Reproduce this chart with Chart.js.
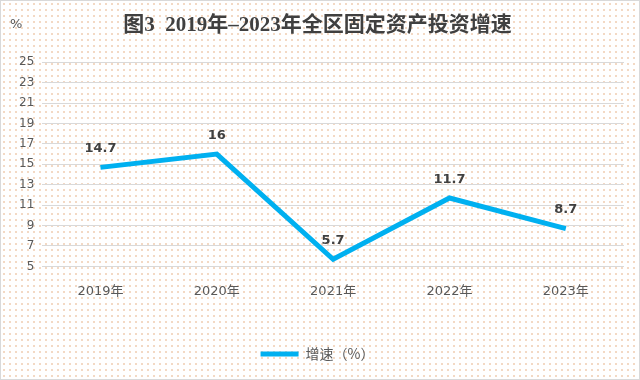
<!DOCTYPE html>
<html>
<head>
<meta charset="utf-8">
<script src="https://cdn.jsdelivr.net/npm/chart.js@4"></script>
<style>
  body { margin: 0; background: #fff; }
  #wrap {
    width: 638px; height: 378px; border: 1px solid #d9d9d9;
    background-color: #fff;
    background-image: radial-gradient(#f3d9c4 0.8px, transparent 0.9px);
    background-size: 6px 6px;
  }
</style>
</head>
<body>
<div id="wrap"><canvas id="myChart" width="638" height="378"></canvas></div>
<script>
const years = ['2019年', '2020年', '2021年', '2022年', '2023年'];
const growth = [14.7, 16, 5.7, 11.7, 8.7];
const yTicks = [5, 7, 9, 11, 13, 15, 17, 19, 21, 23, 25];

const lineColor = '#00b0f0';

// values above each point + the "%" unit in the top left corner
const labelPlugin = {
    id: 'labels',
    afterDatasetsDraw(chart) {
        const ctx = chart.ctx;
        const meta = chart.getDatasetMeta(0);
        ctx.save();
        ctx.font = 'bold 13px "DejaVu Sans", sans-serif';
        ctx.fillStyle = '#404040';
        ctx.textAlign = 'center';
        ctx.textBaseline = 'bottom';
        meta.data.forEach((pt, i) => {
            ctx.fillText(String(growth[i]), pt.x, pt.y - 12);
        });
        ctx.font = '13px "DejaVu Sans", sans-serif';
        ctx.fillStyle = '#595959';
        ctx.textAlign = 'left';
        ctx.textBaseline = 'middle';
        ctx.fillText('%', 9, 24);
        ctx.restore();
    }
};

const ctx = document.getElementById('myChart').getContext('2d');
const myChart = new Chart(ctx, {
    type: 'line',
    data: {
        labels: years,
        datasets: [{
            label: '增速（%）',
            data: growth,
            borderColor: lineColor,
            backgroundColor: lineColor,
            borderWidth: 5,
            pointRadius: 0,
            tension: 0
        }]
    },
    options: {
        responsive: false,
        animation: false,
        layout: { padding: { left: 10, right: 15, top: 0, bottom: 8 } },
        plugins: {
            title: {
                display: true,
                text: '图3  2019年–2023年全区固定资产投资增速',
                color: '#404040',
                font: { family: '"Liberation Serif", "Noto Sans CJK SC", serif', size: 21, weight: 'bold' },
                padding: { top: 12, bottom: 24 }
            },
            legend: {
                position: 'bottom',
                labels: {
                    color: '#595959',
                    font: { family: '"Noto Sans CJK SC", sans-serif', size: 14 },
                    boxWidth: 38,
                    boxHeight: 5,
                    padding: 10,
                    generateLabels(chart) {
                        const items = Chart.defaults.plugins.legend.labels.generateLabels(chart);
                        items.forEach(it => { it.lineWidth = 0; it.fillStyle = lineColor; });
                        return items;
                    }
                }
            },
            tooltip: { enabled: false }
        },
        scales: {
            x: {
                offset: true,
                grid: { display: false },
                border: { display: false },
                afterFit(axis) { axis.height += 29; },
                ticks: {
                    color: '#595959',
                    font: { family: '"DejaVu Sans", "Noto Sans CJK SC", sans-serif', size: 13 },
                    padding: 9
                }
            },
            y: {
                min: 5,
                max: 25,
                afterBuildTicks(axis) { axis.ticks = yTicks.map(v => ({ value: v })); },
                grid: { color: '#d9d9d9', drawTicks: false },
                border: { display: false },
                ticks: {
                    color: '#595959',
                    font: { family: '"DejaVu Sans", sans-serif', size: 12 },
                    padding: 8
                }
            }
        }
    },
    plugins: [labelPlugin]
});
</script>
</body>
</html>
